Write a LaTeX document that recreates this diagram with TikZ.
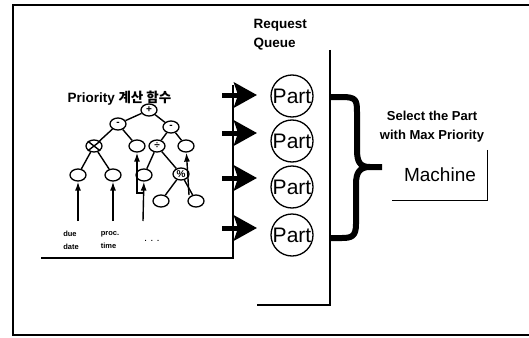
\documentclass[tikz,border=0pt]{standalone}
\usepackage{fontspec}
\setmainfont{Liberation Sans}
\newfontfamily\kofont{Noto Sans CJK KR}
\usetikzlibrary{arrows.meta, positioning, shapes.geometric}

\begin{document}
\begin{tikzpicture}[
x=1pt, y=-1pt,
line/.style={line width=1.4pt},
op/.style={draw, line width=1.3pt, ellipse, minimum width=16pt, minimum height=12pt, inner sep=0pt, font=\fontsize{10}{10}\selectfont\bfseries},
part/.style={draw, line width=1.3pt, circle, minimum size=42pt, inner sep=0pt, font=\fontsize{21}{21}\selectfont},
feed/.style={-{Stealth[length=23pt, width=25pt, inset=4pt]}, line width=5pt},
inarrow/.style={-{Latex[length=9pt, width=6pt]}, line width=1.4pt},
lbl/.style={font=\fontsize{13.5}{19}\selectfont\bfseries, align=left},
small/.style={font=\fontsize{7.5}{13}\selectfont\bfseries, align=left}
]
\useasboundingbox (0,0) rectangle (529,337);

% outer frame
\draw[line] (529,5) -- (13,5) -- (13,335) -- (529,335);

% priority function tree
\node[lbl, anchor=west] (title) at (64,98) {Priority {\kofont 계산 함수}};
\node[op] (root) at (149,110) {+};
\node[op] (m1) at (118,124) {-};
\node[op] (m2) at (171,127) {-};
\node[op] (mul) at (94,146) {};
\node[op] (v1) at (137,146) {};
\node[op] (div) at (157,146) {÷};
\node[op] (v2) at (186,146) {};
\node[op] (a1) at (78,175) {};
\node[op] (a2) at (113,175) {};
\node[op] (a3) at (144,175) {};
\node[op] (mod) at (181,174) {\%};
\node[op] (b1) at (161,201) {};
\node[op] (b2) at (196,201) {};
\draw[line] (mul.north west) -- (mul.south east) (mul.north east) -- (mul.south west);

\draw[line] (root) -- (m1);
\draw[line] (root) -- (m2);
\draw[line] (m1) -- (mul);
\draw[line] (m1) -- (v1);
\draw[line] (m2) -- (div);
\draw[line] (m2) -- (v2);
\draw[line] (mul) -- (a1);
\draw[line] (mul) -- (a2);
\draw[line] (div) -- (a3);
\draw[line] (div) -- (mod);
\draw[line] (mod) -- (b1);
\draw[line] (mod) -- (b2);

% inputs
\coordinate (due) at (78,221);
\coordinate (proc) at (113,221);
\coordinate (more) at (143,221);
\coordinate (kink) at (143,193);
\coordinate (tail) at (189,195);
\draw[inarrow] (due) -- (a1);
\draw[inarrow] (proc) -- (a2);
\draw[inarrow] (more) -- (a3);
\draw[inarrow] (kink) -| (v1);
\draw[inarrow] (tail) -- (v2);
\node[small] (duelbl) at (71,240) {due\\date};
\node[small] (proclbl) at (110,240) {proc.\\time};
\node[small] (dots) at (152,241) {.\ \ .\ \ .};

\draw[line] (233,85) -- (233,258) -- (41,258);

% request queue
\node[lbl, anchor=west] (queue) at (250,35) {Request\\Queue};
\draw[line] (330,50) -- (330,305) -- (257,305);
\foreach \i/\y/\py in {1/95/96, 2/133/141, 3/178/187, 4/228/235} {
  \coordinate (src\i) at (222,\y);
  \coordinate (dst\i) at (257,\y);
  \draw[feed] (src\i) -- (dst\i);
  \node[part] (p\i) at (292,\py) {Part};
}

% selection brace
\draw[line width=6pt, line join=round]
  (330,97) -- (342,97) .. controls (356,97) and (357,100) .. (357,112)
  -- (357,150) .. controls (357,162) and (360,167) .. (370,167) -- (382,167)
  (370,167) .. controls (360,167) and (356,172) .. (356,184)
  -- (356,224) .. controls (356,236) and (352,238) .. (342,238) -- (330,238);

\node[lbl, align=center, font=\fontsize{13}{19}\selectfont\bfseries] (select) at (432,127) {Select the Part\\with Max Priority};

% machine
\node[minimum width=95pt, minimum height=50pt, font=\fontsize{19}{19}\selectfont] (machine) at (440,175) {Machine};
\draw[line] (machine.north east) -- (machine.south east) -- (machine.south west);

\end{tikzpicture}
\end{document}
